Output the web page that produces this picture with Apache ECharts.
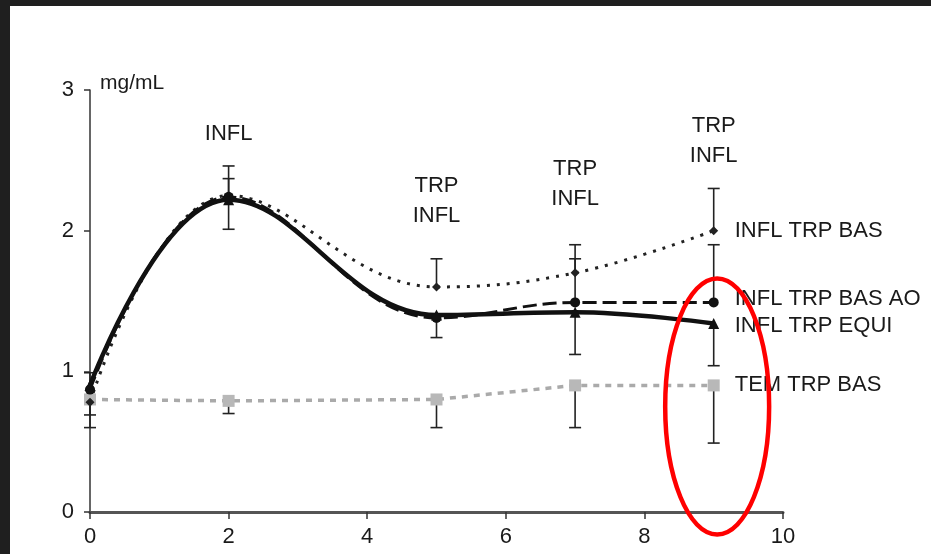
<!DOCTYPE html>
<html>
<head>
<meta charset="utf-8">
<script src="https://cdn.jsdelivr.net/npm/echarts@6/dist/echarts.min.js"></script>
<style>
  html, body { margin: 0; padding: 0; background: #1f1f1f; }
  #main { position: absolute; left: 10px; top: 6px; width: 921px; height: 548px; background: #fff; }
</style>
</head>
<body>
<div id="main"></div>
<script>
// 时间点 (x)
var times = [0, 2, 5, 7, 9];
// 各组数值 mg/mL
var infTrpBas = [0.78, 2.25, 1.60, 1.70, 2.00];
var infTrpBasAo = [0.87, 2.24, 1.38, 1.49, 1.49];
var infTrpEqui = [0.90, 2.22, 1.40, 1.42, 1.34];
var temTrpBas = [0.80, 0.79, 0.80, 0.90, 0.90];
var seriesNames = ['INFL TRP BAS', 'INFL TRP BAS AO', 'INFL TRP EQUI', 'TEM TRP BAS'];

// 误差线: x, 起点, 终点(带横帽)
var errX = [0, 0, 0, 2, 2, 2, 2, 5, 5, 5, 7, 7, 7, 7, 9, 9, 9, 9];
var errFrom = [0.90, 0.78, 0.80, 2.22, 2.25, 2.22, 0.79, 1.60, 1.40, 0.80, 1.70, 1.49, 1.42, 0.90, 2.00, 1.49, 1.34, 0.90];
var errTo = [0.99, 0.60, 0.69, 2.46, 2.37, 2.01, 0.70, 1.80, 1.24, 0.60, 1.90, 1.80, 1.12, 0.60, 2.30, 1.90, 1.04, 0.49];

// 顶部注释
var noteX = [2, 5, 7, 9];
var noteY = [2.69, 2.21, 2.33, 2.64];
var noteText = ['INFL', 'TRP\nINFL', 'TRP\nINFL', 'TRP\nINFL'];

// 红圈 (数据坐标)
var ringCenter = [9.05, 0.75];
var ringRadius = [0.75, 0.91];

var xTicks = [0, 2, 4, 6, 8, 10];
var yTicks = [0, 1, 2, 3];

var font = 'Liberation Sans, Arial, sans-serif';

function pairs(ys) {
    return times.map(function (t, i) { return [t, ys[i]]; });
}

var errData = errX.map(function (x, i) { return [x, errFrom[i], errTo[i]]; });
var noteData = noteX.map(function (x, i) { return [x, noteY[i], noteText[i]]; });

var myChart = echarts.init(document.getElementById('main'));

function endLabel(dy) {
    return {
        show: true,
        formatter: '{a}',
        distance: 21,
        offset: [0, dy],
        color: '#1a1a1a',
        fontFamily: font,
        fontSize: 22
    };
}

var option = {
    animation: false,
    grid: { left: 80, right: 148, top: 84, bottom: 42 },
    xAxis: {
        type: 'value',
        min: 0, max: 10, interval: 2,
        axisLine: { lineStyle: { color: '#555', width: 3 } },
        axisTick: { length: 7, lineStyle: { color: '#333', width: 1.5 } },
        axisLabel: {
            color: '#1a1a1a', fontFamily: font, fontSize: 22, margin: 14,
            formatter: function (v) { return xTicks.indexOf(v) >= 0 ? v : ''; }
        },
        splitLine: { show: false }
    },
    yAxis: {
        type: 'value',
        min: 0, max: 3, interval: 1,
        name: 'mg/mL',
        nameLocation: 'end',
        nameGap: 7,
        nameTextStyle: { color: '#1a1a1a', fontFamily: font, fontSize: 21, align: 'left', verticalAlign: 'middle', padding: [0, 0, 0, 10] },
        axisLine: { show: true, lineStyle: { color: '#333', width: 1.5 } },
        axisTick: { show: true, length: 6, lineStyle: { color: '#333', width: 1.5 } },
        axisLabel: {
            color: '#1a1a1a', fontFamily: font, fontSize: 22, margin: 16,
            formatter: function (v) { return yTicks.indexOf(v) >= 0 ? v : ''; }
        },
        splitLine: { show: false }
    },
    series: [
        {
            type: 'custom',
            name: 'err',
            z: 1,
            clip: false,
            data: errData,
            renderItem: function (params, api) {
                var p0 = api.coord([api.value(0), api.value(1)]);
                var p1 = api.coord([api.value(0), api.value(2)]);
                var style = { stroke: '#222', lineWidth: 1.6 };
                return {
                    type: 'group',
                    children: [
                        { type: 'line', shape: { x1: p0[0], y1: p0[1], x2: p1[0], y2: p1[1] }, style: style },
                        { type: 'line', shape: { x1: p1[0] - 6, y1: p1[1], x2: p1[0] + 6, y2: p1[1] }, style: style }
                    ]
                };
            }
        },
        {
            type: 'line',
            name: seriesNames[3],
            data: pairs(temTrpBas),
            z: 2,
            symbol: 'rect',
            symbolSize: 12,
            itemStyle: { color: '#b8b8b8' },
            lineStyle: { color: '#aaa', width: 3.5, type: [6, 6] },
            endLabel: endLabel(0)
        },
        {
            type: 'line',
            name: seriesNames[0],
            data: pairs(infTrpBas),
            smooth: 0.4,
            z: 3,
            symbol: 'diamond',
            symbolSize: 9,
            itemStyle: { color: '#222' },
            lineStyle: { color: '#222', width: 3, type: [3, 7] },
            endLabel: endLabel(0)
        },
        {
            type: 'line',
            name: seriesNames[1],
            data: pairs(infTrpBasAo),
            smooth: 0.4,
            z: 4,
            symbol: 'circle',
            symbolSize: 10,
            itemStyle: { color: '#111' },
            lineStyle: { color: '#111', width: 3, type: [14, 6] },
            endLabel: endLabel(-3)
        },
        {
            type: 'line',
            name: seriesNames[2],
            data: pairs(infTrpEqui),
            smooth: 0.4,
            z: 5,
            symbol: 'triangle',
            symbolSize: 11,
            itemStyle: { color: '#111' },
            lineStyle: { color: '#111', width: 4.5 },
            endLabel: endLabel(2)
        },
        {
            type: 'scatter',
            name: 'notes',
            data: noteData,
            symbolSize: 0,
            silent: true,
            itemStyle: { opacity: 1 },
            label: {
                show: true,
                position: 'inside',
                formatter: function (p) { return p.data[2]; },
                color: '#1a1a1a',
                opacity: 1,
                fontFamily: font,
                fontSize: 22,
                lineHeight: 30
            }
        },
        {
            type: 'custom',
            name: 'ring',
            clip: false,
            z: 10,
            data: [ringCenter],
            renderItem: function (params, api) {
                var c = api.coord([api.value(0), api.value(1)]);
                var s = api.size(ringRadius);
                return {
                    type: 'ellipse',
                    shape: { cx: c[0], cy: c[1], rx: s[0], ry: s[1] },
                    style: { fill: 'none', stroke: '#ff0000', lineWidth: 4.5 }
                };
            }
        }
    ]
};

myChart.setOption(option);
</script>
</body>
</html>
